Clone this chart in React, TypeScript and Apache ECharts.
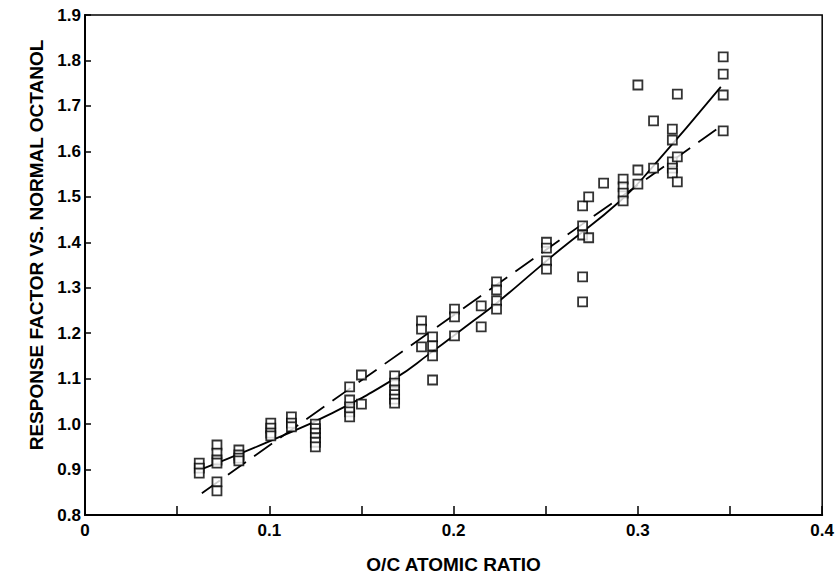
import React, { useEffect, useRef } from "react";
import * as echarts from "echarts";

// Measured points: O/C atomic ratio and response factor (paired)
const ocRatio = [
  0.062, 0.062, 0.062,
  0.0716, 0.0716, 0.0716, 0.0716, 0.0716, 0.0716,
  0.0835, 0.0835, 0.0835, 0.0835,
  0.1008, 0.1008, 0.1008, 0.1008,
  0.112, 0.112, 0.112,
  0.125, 0.125, 0.125, 0.125, 0.125, 0.125,
  0.1436, 0.1436, 0.1436, 0.1436, 0.1436,
  0.15, 0.15,
  0.168, 0.168, 0.168, 0.168, 0.168, 0.168,
  0.1826, 0.1826, 0.1826,
  0.1886, 0.1886, 0.1886, 0.1886,
  0.2005, 0.2005, 0.2005,
  0.215, 0.215,
  0.2233, 0.2233, 0.2233, 0.2233,
  0.2504, 0.2504, 0.2504, 0.2504,
  0.27, 0.27, 0.27, 0.27, 0.27,
  0.2733, 0.2733,
  0.2814,
  0.292, 0.292, 0.292, 0.292,
  0.3, 0.3, 0.3,
  0.3085, 0.3085,
  0.3187, 0.3187, 0.3187, 0.3187, 0.3187,
  0.3214, 0.3214, 0.3214,
  0.3463, 0.3463, 0.3463, 0.3463,
];
const responseFactor = [
  0.914, 0.903, 0.892,
  0.954, 0.936, 0.921, 0.914, 0.873, 0.853,
  0.943, 0.932, 0.925, 0.919,
  1.002, 0.991, 0.98, 0.974,
  1.016, 1.002, 0.994,
  1.0, 0.99, 0.98, 0.97, 0.96, 0.95,
  1.082, 1.053, 1.038, 1.027, 1.016,
  1.108, 1.044,
  1.106, 1.09, 1.075, 1.065, 1.055, 1.046,
  1.227, 1.209, 1.17,
  1.192, 1.172, 1.15, 1.097,
  1.253, 1.236, 1.194,
  1.26, 1.214,
  1.313, 1.295, 1.271, 1.253,
  1.4, 1.387, 1.359, 1.341,
  1.48, 1.436, 1.416, 1.324, 1.269,
  1.5, 1.41,
  1.53,
  1.539, 1.522, 1.508, 1.491,
  1.746, 1.559, 1.528,
  1.667, 1.563,
  1.649, 1.625, 1.577, 1.563, 1.552,
  1.726, 1.588, 1.533,
  1.808, 1.77, 1.724, 1.645,
];

// Solid fitted curve
const curveX = [0.061, 0.1, 0.133, 0.168, 0.187, 0.209, 0.2233, 0.2466, 0.2575, 0.291, 0.308, 0.345];
const curveY = [0.897, 0.962, 1.022, 1.1, 1.155, 1.222, 1.266, 1.346, 1.383, 1.493, 1.566, 1.742];

// Dashed linear fit
const lineX = [0.0634, 0.346];
const lineY = [0.848, 1.658];

const FONT = "'Liberation Sans', Arial, Helvetica, sans-serif";

export default function App() {
  const ref = useRef<HTMLDivElement>(null);
  useEffect(() => {
    if (!ref.current) return;
    const chart = echarts.init(ref.current, undefined, { renderer: "svg" });
    const axisText = { color: "#000", fontFamily: FONT, fontWeight: "bold" as const, fontSize: 17 };
    chart.setOption({
      animation: false,
      backgroundColor: "#fff",
      grid: {
        left: 85,
        right: 14,
        top: 15,
        bottom: 65,
        show: true,
        borderColor: "#000",
        borderWidth: 1.5,
        containLabel: false,
      },
      xAxis: {
        type: "value",
        min: 0,
        max: 0.4,
        interval: 0.05,
        name: "O/C ATOMIC RATIO",
        nameLocation: "middle",
        nameGap: 40,
        nameTextStyle: { ...axisText, fontSize: 19 },
        axisLine: { show: true, lineStyle: { color: "#000", width: 2 } },
        axisTick: { show: true, inside: true, length: 9, lineStyle: { color: "#000", width: 1.5 } },
        splitLine: { show: false },
        axisLabel: {
          ...axisText,
          margin: 7,
          showMinLabel: true,
          showMaxLabel: true,
          formatter: (v: number) => {
            const r = Math.round(v * 100);
            if (r % 10 !== 0) return "";
            if (r === 0) return "0";
            return (r / 100).toFixed(1);
          },
        },
      },
      yAxis: {
        type: "value",
        min: 0.8,
        max: 1.9,
        interval: 0.1,
        name: "RESPONSE FACTOR VS. NORMAL OCTANOL",
        nameLocation: "middle",
        nameGap: 32,
        nameTextStyle: { ...axisText, fontSize: 19, padding: [0, 0, 0, 40] },
        axisLine: { show: true, lineStyle: { color: "#000", width: 2 } },
        axisTick: { show: true, inside: true, length: 6, lineStyle: { color: "#000", width: 1.5 } },
        splitLine: { show: false },
        axisLabel: {
          ...axisText,
          margin: 4,
          formatter: (v: number) => v.toFixed(1),
        },
      },
      series: [
        {
          type: "line",
          data: curveX.map((x, i) => [x, curveY[i]]),
          smooth: true,
          showSymbol: false,
          lineStyle: { color: "#000", width: 1.8 },
          z: 2,
        },
        {
          type: "line",
          data: lineX.map((x, i) => [x, lineY[i]]),
          showSymbol: false,
          lineStyle: { color: "#000", width: 1.8, type: [22, 10] },
          z: 2,
        },
        {
          type: "scatter",
          data: ocRatio.map((x, i) => [x, responseFactor[i]]),
          symbol: "rect",
          symbolSize: 9,
          itemStyle: { color: "#fff", borderColor: "#000", borderWidth: 1.8 },
          z: 3,
        },
      ],
    });
    return () => chart.dispose();
  }, []);
  return (
    <div
      ref={ref}
      style={{ position: "fixed", left: 0, top: 0, width: 837, height: 580, background: "#fff" }}
    />
  );
}
